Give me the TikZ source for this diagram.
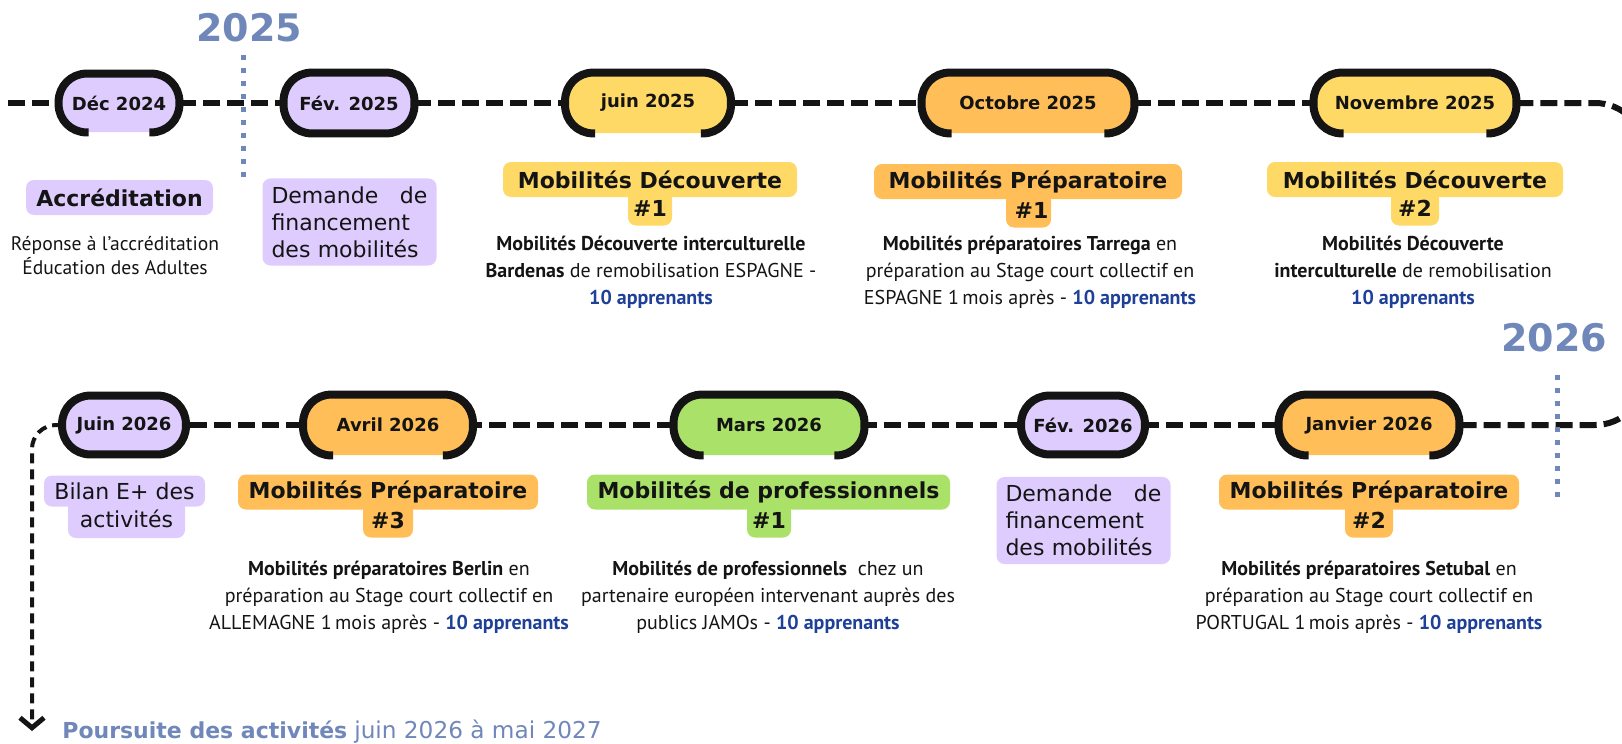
\documentclass[tikz,border=0pt]{standalone}
\usepackage{fontspec}
\setmainfont{DejaVu Sans}
\newfontfamily\descfont{PT Sans}
\usetikzlibrary{arrows.meta,calc}

\definecolor{lav}{RGB}{221,204,253}
\definecolor{sun}{RGB}{255,217,102}
\definecolor{apricot}{RGB}{255,190,87}
\definecolor{lime}{RGB}{170,225,104}
\definecolor{steel}{RGB}{112,135,185}
\definecolor{ink}{RGB}{20,20,20}
\definecolor{navy}{RGB}{31,64,153}

\tikzset{
  pill/.style={rectangle, rounded corners=14pt, minimum height=30pt, inner sep=0pt, font=\fontsize{9}{10}\selectfont\bfseries, text=ink},
  ring/.style={draw=ink, line width=4pt},
  timeline/.style={draw=ink, line width=3pt, dash pattern=on 8.5pt off 3.5pt},
  flowarrow/.style={draw=ink, line width=2pt, dash pattern=on 5pt off 3pt, -{Straight Barb[length=5pt,width=12pt,line width=2.5pt]}},
  headbox/.style={rectangle, rounded corners=4pt, minimum height=17.5pt, inner sep=0pt, font=\fontsize{11}{13}\selectfont\bfseries, text=ink},
  notebox/.style={rectangle, rounded corners=4pt, fill=lav, inner xsep=4.5pt, inner ysep=4pt, text width=78pt, align=left, font=\fontsize{11}{13.5}\selectfont, text=ink},
  desc/.style={align=center, inner sep=0pt, font=\descfont\fontsize{10}{13.5}\selectfont, text=ink},
  year/.style={font=\fontsize{19}{19}\selectfont\bfseries, text=steel, inner sep=0pt},
  yearmark/.style={draw=steel, line width=2.5pt, dash pattern=on 2.5pt off 4pt},
}
\newcommand{\appr}{\textcolor{navy}{\bfseries 10 apprenants}}

\begin{document}
\begin{tikzpicture}[x=0.5pt,y=-0.5pt]
    \useasboundingbox (0,0) rectangle (1622,744);
    \clip (0,0) rectangle (1622,744);

    % Years
    \node[year] (y2025) at (249,28) {2025};
    \node[year] (y2026) at (1554,338) {2026};

    % Row 1 - dates
    \node[pill, fill=lav, minimum width=60pt, minimum height=29pt] (dec24) at (119,103) {Déc 2024};
    \node[pill, fill=lav, minimum width=65pt] (fev25) at (349,103) {Fév. 2025};
    \node[pill, fill=sun, minimum width=82.5pt] (jun25) at (648,103) {juin 2025};
    \node[pill, fill=apricot, minimum width=106pt] (oct25) at (1028,103) {Octobre 2025};
    \node[pill, fill=sun, minimum width=101pt] (nov25) at (1415,103) {Novembre 2025};

    % Row 2 - dates
    \node[pill, fill=lav, minimum width=61.5pt, minimum height=29pt] (jun26) at (124,425) {Juin 2026};
    \node[pill, fill=apricot, minimum width=84.5pt] (avr26) at (388,425) {Avril 2026};
    \node[pill, fill=lime, minimum width=95pt] (mar26) at (769,425) {Mars 2026};
    \node[pill, fill=lav, minimum width=61.5pt, minimum height=29pt] (fev26) at (1083,425) {Fév. 2026};
    \node[pill, fill=apricot, minimum width=90pt] (jan26) at (1369,425) {Janvier 2026};

    % Rings
    \draw[ring, rounded corners=14pt] (fev25.north west) rectangle (fev25.south east);
    \draw[ring, rounded corners=14pt] (jun26.north west) rectangle (jun26.south east);
    \draw[ring, rounded corners=14pt] (fev26.north west) rectangle (fev26.south east);
    \draw[ring, rounded corners=14pt] ([xshift=-15pt]dec24.south east) -- (dec24.south east) -- (dec24.north east) -- (dec24.north west) -- (dec24.south west) -- ([xshift=15pt]dec24.south west);
    \foreach \p in {jun25,oct25,nov25,avr26,mar26,jan26}
      \draw[ring, rounded corners=14pt] ([xshift=15pt]\p.south west) -- (\p.south west) -- (\p.north west) -- (\p.north east) -- (\p.south east) -- ([xshift=-15pt]\p.south east);

    % Timeline
    \coordinate (tstart) at (8,103);
    \coordinate (turnA) at (1645,103);
    \coordinate (turnB) at (1645,425);
    \coordinate (tend) at (32,731);
    \draw[timeline] (tstart) -- (dec24.west);
    \draw[timeline] (dec24.east) -- (fev25.west);
    \draw[timeline] (fev25.east) -- (jun25.west);
    \draw[timeline] (jun25.east) -- (oct25.west);
    \draw[timeline] (oct25.east) -- (nov25.west);
    \draw[timeline, rounded corners=25pt] (nov25.east) -- (turnA) -- (turnB) -- (jan26.east);
    \draw[timeline] (jan26.west) -- (fev26.east);
    \draw[timeline] (fev26.west) -- (mar26.east);
    \draw[timeline] (mar26.west) -- (avr26.east);
    \draw[timeline] (avr26.west) -- (jun26.east);
    \draw[flowarrow, rounded corners=12pt] (jun26.west) -| (tend);

    % Year ticks
    \coordinate (tick25a) at (243,55);
    \coordinate (tick25b) at (243,182);
    \coordinate (tick26a) at (1557,375);
    \coordinate (tick26b) at (1557,504);
    \draw[yearmark] (tick25a) -- (tick25b);
    \draw[yearmark] (tick26a) -- (tick26b);

    % Row 1 - labels
    \node[headbox, fill=lav, minimum width=93.5pt] (acc) at (119.5,197.5) {Accréditation};
    \node[desc, font=\descfont\fontsize{9.8}{12}\selectfont] (accd) at (115,256) {Réponse à l’accréditation\\Éducation des Adultes};

    \node[notebox] (finA) at (349.5,222) {Demande\hfill de\\financement\\des mobilités};

    \node[headbox, fill=sun, minimum width=22pt] (disc1n) at (650,208) {\#1};
    \node[headbox, fill=sun, minimum width=147pt] (disc1) at (650,179.5) {Mobilités Découverte};
    \node[desc] (disc1d) at (651,272) {\textbf{Mobilités Découverte interculturelle}\\\textbf{Bardenas} de remobilisation ESPAGNE -\\\appr};

    \node[headbox, fill=apricot, minimum width=22.5pt] (prep1n) at (1028.5,210) {\hspace{3pt}\#1};
    \node[headbox, fill=apricot, minimum width=154pt] (prep1) at (1028,181.5) {Mobilités Préparatoire\hspace{4pt}};
    \node[desc] (prep1d) at (1030,272) {\textbf{Mobilités préparatoires Tarrega} en\\préparation au Stage court collectif en\\ESPAGNE 1\,mois après - \appr};

    \node[headbox, fill=sun, minimum width=24pt] (disc2n) at (1415,208) {\#2};
    \node[headbox, fill=sun, minimum width=148pt] (disc2) at (1415,179.5) {Mobilités Découverte};
    \node[desc] (disc2d) at (1413,272) {\textbf{Mobilités Découverte}\\\textbf{interculturelle} de remobilisation\\\appr};

    % Row 2 - labels
    \node[headbox, fill=lav, minimum width=58.5pt, minimum height=19pt, font=\fontsize{11}{13}\selectfont] (bilann) at (126.5,519) {activités};
    \node[headbox, fill=lav, minimum width=80.5pt, minimum height=15.5pt, font=\fontsize{11}{13}\selectfont] (bilan) at (124.5,491) {Bilan E+ des};

    \node[headbox, fill=apricot, minimum width=25pt] (prep3n) at (388,520) {\#3};
    \node[headbox, fill=apricot, minimum width=150pt] (prep3) at (388,492) {Mobilités Préparatoire};
    \node[desc] (prep3d) at (389,597) {\textbf{Mobilités préparatoires Berlin} en\\préparation au Stage court collectif en\\ALLEMAGNE 1\,mois après - \appr};

    \node[headbox, fill=lime, minimum width=22pt] (pro1n) at (769,520) {\#1};
    \node[headbox, fill=lime, minimum width=181.5pt] (pro1) at (768.5,492) {Mobilités de professionnels};
    \node[desc] (pro1d) at (768,597) {\textbf{Mobilités de professionnels}\ \ chez un\\partenaire européen intervenant auprès des\\publics JAMOs - \appr};

    \node[notebox] (finB) at (1083.5,520.5) {Demande\hfill de\\financement\\des mobilités};

    \node[headbox, fill=apricot, minimum width=24pt] (prep2n) at (1369,520) {\#2};
    \node[headbox, fill=apricot, minimum width=150pt] (prep2) at (1369,492) {Mobilités Préparatoire};
    \node[desc] (prep2d) at (1369,597) {\textbf{Mobilités préparatoires Setubal} en\\préparation au Stage court collectif en\\PORTUGAL 1\,mois après - \appr};

    % Suite
    \node[anchor=west, inner sep=0pt, text=steel, font=\fontsize{11}{13}\selectfont] (suite) at (62,732) {\textbf{Poursuite des activités} {\fontsize{11.6}{13}\selectfont juin 2026 à mai 2027}};
\end{tikzpicture}
\end{document}
